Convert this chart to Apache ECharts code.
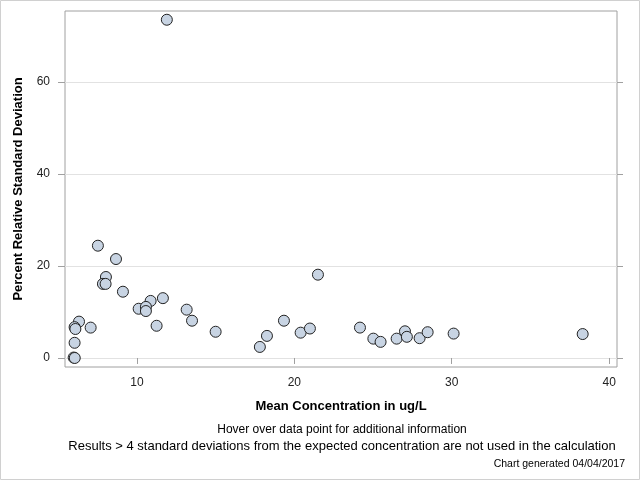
<!DOCTYPE html>
<html>
<head>
<meta charset="utf-8">
<script src="https://cdn.jsdelivr.net/npm/echarts@6/dist/echarts.min.js"></script>
<style>
  html, body { margin: 0; padding: 0; background: #fff; }
  #chart { width: 640px; height: 480px; }
</style>
</head>
<body>
<div id="chart"></div>
<script>
// mean concentration (ug/L) and percent RSD
var concX = [11.9, 7.52, 8.67, 8.03, 7.84, 8.01, 9.11, 11.65, 10.87, 10.11,
  10.57, 10.57, 13.16, 13.5, 11.25, 15.0, 6.32, 6.04, 6.09, 7.06,
  6.04, 5.98, 6.05, 21.5, 17.81, 18.26, 19.34, 20.4, 20.99, 24.17,
  25.02, 25.48, 26.5, 27.03, 27.15, 27.96, 28.47, 30.12, 38.32];
var rsdY = [73.5, 24.4, 21.5, 17.6, 16.1, 16.1, 14.4, 13.0, 12.4, 10.7,
  11.1, 10.2, 10.5, 8.1, 7.0, 5.7, 7.9, 6.7, 6.3, 6.6,
  3.3, 0.1, 0.0, 18.1, 2.4, 4.8, 8.1, 5.5, 6.4, 6.6,
  4.2, 3.5, 4.2, 5.8, 4.6, 4.3, 5.6, 5.3, 5.2];

var xTicks = [10, 20, 30, 40];
var yTicks = [0, 20, 40, 60];

var points = [];
for (var i = 0; i < concX.length; i++) {
  points.push([concX[i], rsdY[i]]);
}

var FONT = '"Liberation Sans", Arial, sans-serif';

var myChart = echarts.init(document.getElementById('chart'));
var option = {
  animation: false,
  grid: {
    left: 65, right: 23, top: 11, bottom: 113,
    outerBoundsMode: 'none',
    show: true, borderColor: '#a0a0a0', borderWidth: 1
  },
  xAxis: {
    type: 'value',
    min: 5.43, max: 40.5,
    name: 'Mean Concentration in ug/L',
    nameLocation: 'middle',
    nameGap: 33,
    nameTextStyle: { fontFamily: FONT, fontSize: 13, fontWeight: 'bold', color: '#000' },
    axisLine: { show: false },
    axisTick: { show: true, length: 6, customValues: xTicks, lineStyle: { color: '#a0a0a0' } },
    axisLabel: { customValues: xTicks, fontFamily: FONT, fontSize: 12, color: '#222', margin: 10 },
    splitLine: { show: false }
  },
  yAxis: [{
    type: 'value',
    min: -1.96, max: 75.4,
    name: 'Percent Relative Standard Deviation',
    nameLocation: 'middle',
    nameGap: 40,
    nameTextStyle: { fontFamily: FONT, fontSize: 13, fontWeight: 'bold', color: '#000' },
    axisLine: { show: false },
    axisTick: { show: true, length: 7, customValues: yTicks, lineStyle: { color: '#a0a0a0' } },
    axisLabel: { customValues: yTicks, fontFamily: FONT, fontSize: 12, color: '#222', margin: 15 },
    splitLine: { show: true, lineStyle: { color: '#e2e2e2', width: 1 } }
  }, {
    type: 'value',
    position: 'right',
    min: -1.96, max: 75.4,
    axisLine: { show: false },
    axisTick: { show: true, length: 6, customValues: yTicks, lineStyle: { color: '#a0a0a0' } },
    axisLabel: { show: false },
    splitLine: { show: false }
  }],
  series: [{
    type: 'scatter',
    data: points,
    symbol: 'circle',
    symbolSize: 11,
    itemStyle: { color: '#c8d4e3', borderColor: '#222', borderWidth: 1, opacity: 1 }
  }],
  graphic: [
    { type: 'rect', shape: { x: 0.5, y: 0.5, width: 639, height: 479 },
      style: { fill: 'none', stroke: '#d0d0d0', lineWidth: 1 } },
    { type: 'text', x: 342, y: 430,
      style: { text: 'Hover over data point for additional information', font: '12px ' + FONT,
        fill: '#000', textAlign: 'center', textVerticalAlign: 'middle' } },
    { type: 'text', x: 342, y: 446,
      style: { text: 'Results > 4 standard deviations from the expected concentration are not used in the calculation',
        font: '13px ' + FONT, fill: '#000', textAlign: 'center', textVerticalAlign: 'middle' } },
    { type: 'text', x: 625, y: 464,
      style: { text: 'Chart generated 04/04/2017', font: '10.5px ' + FONT,
        fill: '#000', textAlign: 'right', textVerticalAlign: 'middle' } }
  ]
};
myChart.setOption(option);
</script>
</body>
</html>
